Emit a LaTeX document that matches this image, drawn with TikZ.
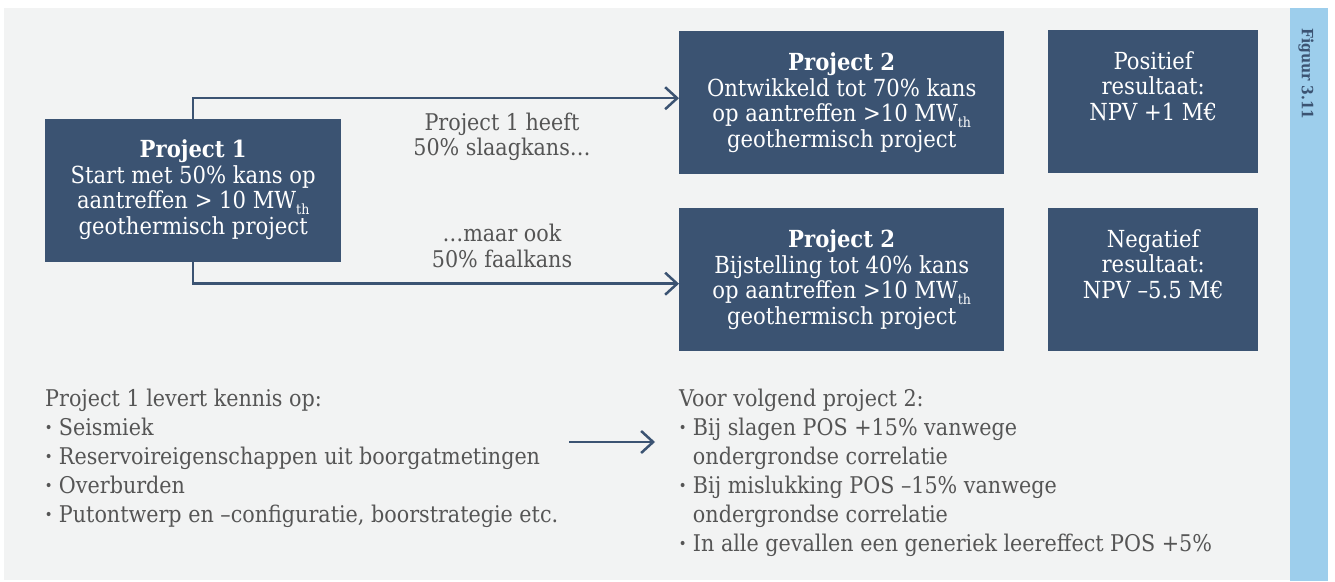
\documentclass[tikz,border=0pt]{standalone}
\usepackage{fontspec}
\setmainfont{DejaVu Serif Condensed}
\usetikzlibrary{arrows.meta}
\definecolor{boxblue}{RGB}{59,83,114}
\definecolor{bggrey}{RGB}{242,243,243}
\definecolor{tabblue}{RGB}{157,206,236}
\definecolor{txtgrey}{RGB}{85,85,85}
\newcommand{\thsub}{\raisebox{-6pt}{\fontsize{14}{14}\selectfont th}}
\newcommand{\bul}{\textbf{·}\ }
\newcommand{\bulindent}{\phantom{\textbf{·}\ }}
\begin{document}
\begin{tikzpicture}[x=1pt,y=-1pt,
  boxstyle/.style={fill=boxblue, draw=none, inner sep=0pt, anchor=north west},
  boxtext/.style={text=white, align=center, font=\fontsize{23.5}{25.5}\selectfont, inner sep=0pt},
  labeltext/.style={text=txtgrey, align=center, font=\fontsize{23}{25.5}\selectfont, inner sep=0pt},
  bodytext/.style={text=txtgrey, align=left, font=\fontsize{23}{29}\selectfont, inner sep=0pt, anchor=north west},
  flowarrow/.style={draw=boxblue, line width=2.5pt, -{Straight Barb[length=12pt,width=22pt]}}
]
\useasboundingbox (0,0) rectangle (1335,581);
\fill[white] (0,0) rectangle (1335,581);
\fill[bggrey] (4,8) rectangle (1290,580);
\fill[tabblue] (1290,8) rectangle (1328,581);
\node[rotate=-90, anchor=west, inner sep=0pt, text=boxblue, font=\bfseries\fontsize{15.5}{15.5}\selectfont] (fig) at (1306,28) {Figuur 3.11};

% boxes
\node[boxstyle, minimum width=296pt, minimum height=143pt] (p1) at (45,119) {};
\node[boxstyle, minimum width=325pt, minimum height=143pt] (p2a) at (679,31) {};
\node[boxstyle, minimum width=325pt, minimum height=143pt] (p2b) at (679,208) {};
\node[boxstyle, minimum width=210pt, minimum height=143pt] (ra) at (1048,30) {};
\node[boxstyle, minimum width=210pt, minimum height=143pt] (rb) at (1048,208) {};

\node[boxtext] (p1t) at ([yshift=1pt]p1.center) {\textbf{Project 1}\\Start met 50\% kans op\\aantreffen > 10 MW\thsub\\geothermisch project};
\node[boxtext] (p2at) at ([yshift=0pt]p2a.center) {\textbf{Project 2}\\Ontwikkeld tot 70\% kans\\op aantreffen >10 MW\thsub\\geothermisch project};
\node[boxtext] (p2bt) at ([yshift=0pt]p2b.center) {\textbf{Project 2}\\Bijstelling tot 40\% kans\\op aantreffen >10 MW\thsub\\geothermisch project};
\node[boxtext, anchor=north] (rat) at ([yshift=-21pt]ra.north) {Positief\\resultaat:\\NPV +1 M€};
\node[boxtext, anchor=north] (rbt) at ([yshift=-21pt]rb.north) {Negatief\\resultaat:\\NPV –5.5 M€};

% connectors
\draw[flowarrow] (p1.north) |- ([yshift=4.5pt]p2a.west);
\draw[flowarrow] (p1.south) |- ([yshift=-4pt]p2b.west);

\node[labeltext] (l1) at (502,137) {Project 1 heeft\\50\% slaagkans…};
\node[labeltext] (l2) at (502,246) {…maar ook\\50\% faalkans};

% lower texts
\node[bodytext] (kt) at (45,389) {Project 1 levert kennis op:\\
\bul Seismiek\\
\bul Reservoireigenschappen uit boorgatmetingen\\
\bul Overburden\\
\bul Putontwerp en –configuratie, boorstrategie etc.};
\node[bodytext] (vt) at (679,389) {Voor volgend project 2:\\
\bul Bij slagen POS +15\% vanwege\\
\bulindent ondergrondse correlatie\\
\bul Bij mislukking POS –15\% vanwege\\
\bulindent ondergrondse correlatie\\
\bul In alle gevallen een generiek leereffect POS +5\%};
\coordinate (ka) at (569,442);
\coordinate (kb) at (655,442);
\draw[flowarrow] (ka) -- (kb);
\end{tikzpicture}
\end{document}
